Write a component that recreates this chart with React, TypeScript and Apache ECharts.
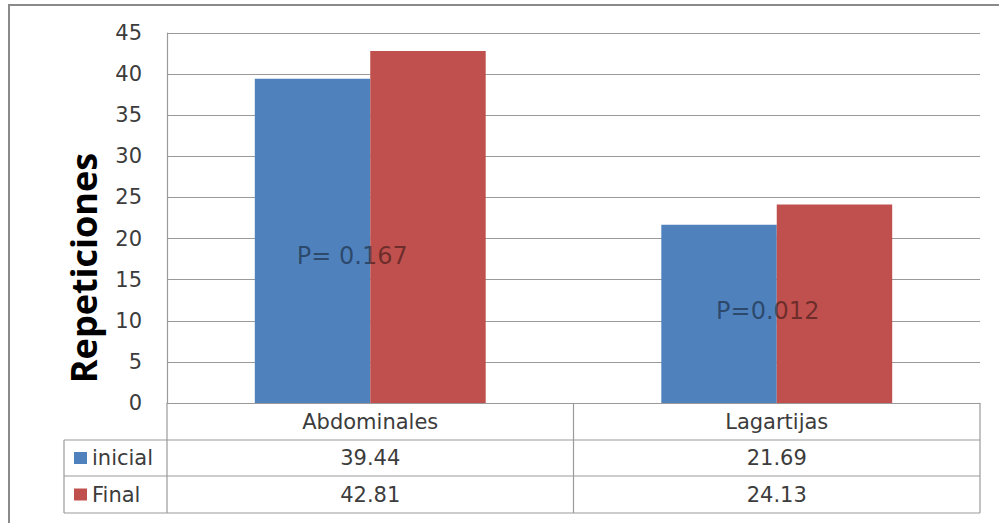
import React, { useEffect, useRef } from "react";
import * as echarts from "echarts";

const categories = ["Abdominales", "Lagartijas"];
const seriesNames = ["inicial", "Final"];
const inicial = [39.44, 21.69];
const final = [42.81, 24.13];
const pLabels = ["P= 0.167", "P=0.012"];
const pValues = [17.9, 11.2];
const yTicks = { min: 0, max: 45, interval: 5 };
const yTitle = "Repeticiones";

const colors = ["#4F81BD", "#C0504D"];
const FONT = "DejaVu Sans";
const TITLE_FONT = "Open Sans";

export default function App() {
  const ref = useRef<HTMLDivElement>(null);
  useEffect(() => {
    document.body.style.margin = "0";
    const chart = echarts.init(ref.current!, undefined, { renderer: "svg" });

    const L = 167, R = 980, T = 33, B = 403;
    const rowH = [403, 440, 476, 513];
    const mid = (L + R) / 2;
    const catCenters = [(L + mid) / 2, (mid + R) / 2];
    const lineStyle = { stroke: "#9a9a9a", lineWidth: 1.2 };
    const textStyleBase = { fill: "#3c3c3c", font: `21px "${FONT}"` };

    const graphics: any[] = [];
    // outer border
    graphics.push({ type: "rect", shape: { x: 9, y: 5, width: 1100, height: 600 }, style: { fill: "none", stroke: "#8a8a8a", lineWidth: 2 }, silent: true });
    // table horizontal lines
    [rowH[1], rowH[2], rowH[3]].forEach((y) =>
      graphics.push({ type: "line", shape: { x1: 64, y1: y, x2: R, y2: y }, style: lineStyle })
    );
    graphics.push({ type: "line", shape: { x1: 64, y1: rowH[1], x2: 64, y2: rowH[3] }, style: lineStyle });
    [L, mid, R].forEach((x) =>
      graphics.push({ type: "line", shape: { x1: x, y1: rowH[0], x2: x, y2: rowH[3] }, style: lineStyle })
    );
    categories.forEach((c, i) => {
      graphics.push({ type: "text", x: catCenters[i], y: (rowH[0] + rowH[1]) / 2, style: { ...textStyleBase, text: c, align: "center", verticalAlign: "middle" } });
      graphics.push({ type: "text", x: catCenters[i], y: (rowH[1] + rowH[2]) / 2, style: { ...textStyleBase, text: inicial[i].toFixed(2), align: "center", verticalAlign: "middle" } });
      graphics.push({ type: "text", x: catCenters[i], y: (rowH[2] + rowH[3]) / 2, style: { ...textStyleBase, text: final[i].toFixed(2), align: "center", verticalAlign: "middle" } });
    });
    seriesNames.forEach((n, i) => {
      const cy = (rowH[i + 1] + rowH[i + 2]) / 2;
      graphics.push({ type: "rect", shape: { x: 74, y: cy - 6, width: 13, height: 12 }, style: { fill: colors[i] } });
      graphics.push({ type: "text", x: 92, y: cy, style: { ...textStyleBase, text: n, align: "left", verticalAlign: "middle" } });
    });
    // y title
    graphics.push({
      type: "text", x: 83, y: 268, rotation: Math.PI / 2,
      style: { text: yTitle, fill: "#000", font: `bold 36px "${TITLE_FONT}"`, align: "center", verticalAlign: "middle" },
    });

    const labelOffsets = [[-18, 0], [-9, 0]];

    chart.setOption({
      animation: false,
      textStyle: { fontFamily: FONT },
      grid: { left: L, top: T, right: 999 - R, bottom: 523 - B, containLabel: false },
      xAxis: {
        type: "category",
        data: categories,
        axisLabel: { show: false },
        axisTick: { show: false },
        axisLine: { lineStyle: { color: "#9a9a9a", width: 1.2 } },
      },
      yAxis: {
        type: "value",
        min: yTicks.min,
        max: yTicks.max,
        interval: yTicks.interval,
        axisLine: { show: true, lineStyle: { color: "#9a9a9a", width: 1.2 } },
        axisTick: { show: false },
        axisLabel: { fontSize: 21, color: "#3c3c3c", margin: 25, fontFamily: FONT },
        splitLine: { lineStyle: { color: "#9a9a9a", width: 1.2 } },
      },
      series: [
        { name: seriesNames[0], type: "bar", data: inicial, barWidth: "28.4%", barGap: "0%", itemStyle: { color: colors[0] } },
        { name: seriesNames[1], type: "bar", data: final, barWidth: "28.4%", barGap: "0%", itemStyle: { color: colors[1] } },
        {
          type: "scatter",
          symbolSize: 0,
          silent: true,
          z: 10,
          data: categories.map((c, i) => ({
            value: [c, pValues[i]],
            label: {
              show: true,
              position: "inside",
              formatter: pLabels[i],
              offset: labelOffsets[i],
              fontSize: 24,
              color: "rgba(0,0,0,0.55)",
              fontFamily: FONT,
            },
          })),
        },
      ],
      graphic: graphics,
    });
    return () => chart.dispose();
  }, []);
  return <div ref={ref} style={{ width: 999, height: 523 }} />;
}
